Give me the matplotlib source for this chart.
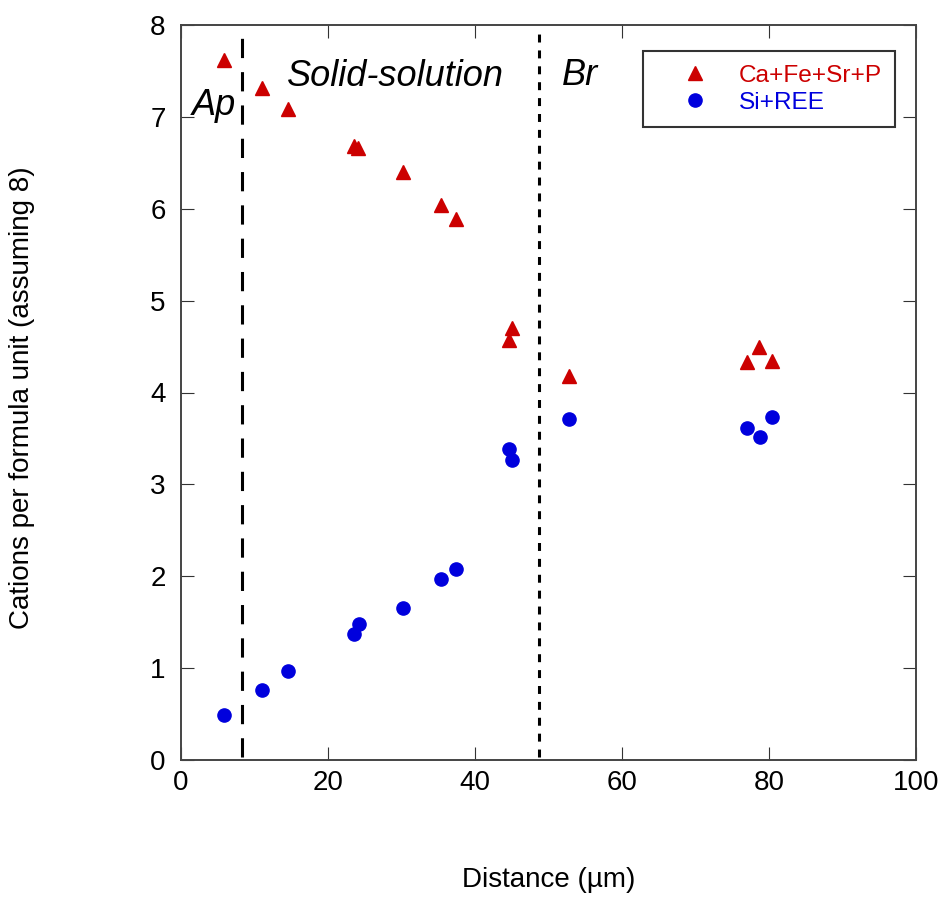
import matplotlib
matplotlib.use("Agg")
import matplotlib.pyplot as plt

plt.rcParams['font.family'] = ['Liberation Sans', 'DejaVu Sans']

# Data
dist_tri = [5.9, 11.0, 14.6, 23.5, 24.1, 30.2, 35.4, 37.4, 44.6, 45.1, 52.8, 77.0, 78.7, 80.4]
ca_fe_sr_p = [7.62, 7.31, 7.09, 6.68, 6.66, 6.40, 6.04, 5.89, 4.57, 4.70, 4.18, 4.33, 4.50, 4.34]
dist_circ = [5.9, 11.0, 14.6, 23.6, 24.2, 30.2, 35.4, 37.4, 44.6, 45.1, 52.8, 77.0, 78.8, 80.4]
si_ree = [0.49, 0.76, 0.97, 1.37, 1.48, 1.65, 1.97, 2.08, 3.39, 3.27, 3.71, 3.61, 3.52, 3.73]
boundary_ap = 8.35
boundary_br = 48.7
xticks = [0, 20, 40, 60, 80, 100]
yticks = [0, 1, 2, 3, 4, 5, 6, 7, 8]

W, H = 945, 899
fig = plt.figure(figsize=(W / 100, H / 100), dpi=100)
ax = fig.add_axes([181 / W, 1 - 760 / H, (916 - 181) / W, (760 - 25) / H])

red = '#CC0000'
blue = '#0000DD'

ax.plot(dist_tri, ca_fe_sr_p, linestyle='none', marker='^', ms=9.5,
        color=red, mec=red, label='Ca+Fe+Sr+P')
ax.plot(dist_circ, si_ree, linestyle='none', marker='o', ms=9.5,
        color=blue, mec=blue, label='Si+REE')

ax.plot([boundary_ap, boundary_ap], [0.03, 7.92], color='black', lw=2.2,
        dashes=(6.3, 4.6))
ax.plot([boundary_br, boundary_br], [0.03, 7.95], color='black', lw=2.2,
        dashes=(2.6, 2.6))

ax.set_xlim(0, 100)
ax.set_ylim(0, 8)
ax.set_xticks(xticks)
ax.set_yticks(yticks)
ax.tick_params(direction='in', top=True, right=True, length=9.4, width=0.8,
               color='#333333', labelsize=20)
ax.tick_params(axis='y', pad=11)
ax.tick_params(axis='x', pad=7)
for s in ax.spines.values():
    s.set_color('#444444')
    s.set_linewidth(1.4)

ax.text(1.4, 7.02, 'Ap', fontsize=26, style='italic', ha='left', va='baseline')
ax.text(14.4, 7.34, 'Solid-solution', fontsize=26, style='italic', ha='left', va='baseline')
ax.text(51.8, 7.35, 'Br', fontsize=26, style='italic', ha='left', va='baseline')

ax.set_xlabel('Distance (µm)', fontsize=20, va='center')
ax.xaxis.set_label_coords(0.5, (760 - 880) / 735)
ax.set_ylabel('Cations per formula unit (assuming 8)', fontsize=20, va='center')
ax.yaxis.set_label_coords((22 - 181) / 735, (760 - 398) / 735)

leg = ax.legend(loc='upper right', bbox_to_anchor=((895 - 181) / 735, (760 - 51) / 735),
                borderaxespad=0, fontsize=17.6, frameon=True, fancybox=False,
                edgecolor='black', handlelength=3.16, handletextpad=0.18,
                borderpad=0.55, labelspacing=0.2, labelcolor='markerfacecolor')
leg.get_frame().set_linewidth(1.5)

fig.savefig('out.png', dpi=100)
